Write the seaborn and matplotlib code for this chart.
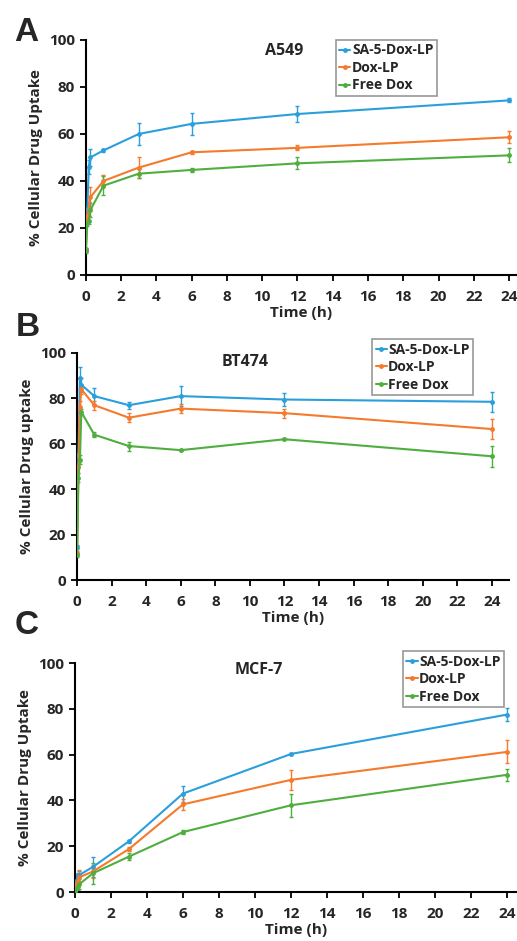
import numpy as np
import pandas as pd
import seaborn as sns
import matplotlib.pyplot as plt

# sampling times (h)
time_h = [0, 0.083, 0.167, 0.25, 1, 3, 6, 12, 24]
series = ["SA-5-Dox-LP", "Dox-LP", "Free Dox"]

# panel A: A549
a549_sa5 = [11, 28, 46, 50, 53, 60, 64.3, 68.5, 74.3]
a549_sa5_err = [0.5, 2, 3, 3.5, 0.7, 4.5, 4.7, 3.5, 0.8]
a549_dox = [10.5, 25, 28, 33, 40, 45.7, 52.2, 54.1, 58.6]
a549_dox_err = [0.5, 2, 3, 4.5, 2.5, 4.5, 0.7, 1.1, 2.5]
a549_free = [10, 22, 23, 27.5, 38, 43.1, 44.7, 47.5, 50.9]
a549_free_err = [0.5, 1, 1.5, 3, 4, 2, 0.8, 2.5, 3]

# panel B: BT474
bt474_sa5 = [14.5, 55, 89, 86, 81, 77, 81, 79.5, 78.5]
bt474_sa5_err = [1, 3, 5, 3, 3.5, 1.5, 4.5, 3, 4.5]
bt474_dox = [12, 50, 76, 84, 77, 71.5, 75.5, 73.5, 66.5]
bt474_dox_err = [1, 3, 3, 2, 2, 2, 2, 2, 4.5]
bt474_free = [11, 45, 53, 74, 64, 59, 57.2, 62, 54.5]
bt474_free_err = [1, 2, 2, 1.5, 1, 2, 0.5, 0.5, 4.5]

# panel C: MCF-7
mcf7_sa5 = [2, 5, 6.5, 7.5, 11, 22.2, 43, 60.3, 77.5]
mcf7_sa5_err = [1, 3, 2, 1.5, 4.5, 0.6, 3.5, 0.6, 3]
mcf7_dox = [1, 3.5, 5, 6.5, 9, 18.8, 38.3, 49, 61.2]
mcf7_dox_err = [0.5, 2, 3, 3, 3, 1, 2.5, 4.5, 5]
mcf7_free = [0.5, 1.5, 2.5, 3.5, 8.2, 15.5, 26.2, 37.9, 51.2]
mcf7_free_err = [0.5, 1, 1.5, 2, 4.5, 1.5, 0.7, 5, 2.5]

colors = ["#2a9fdc", "#f57a2c", "#4fae3f"]

sns.set_theme(style="white")
plt.rcParams["font.family"] = ["Open Sans", "DejaVu Sans"]
plt.rcParams["font.weight"] = "bold"
plt.rcParams["axes.labelweight"] = "bold"

fig = plt.figure(figsize=(5.17, 9.41), dpi=100)

panels = [
    dict(letter="A", title="A549", ylabel="% Cellular Drug Uptake",
         vals=[a549_sa5, a549_dox, a549_free], errs=[a549_sa5_err, a549_dox_err, a549_free_err],
         rect=[0.166, 0.7078, 0.834, 0.2497], xmax=24.45,
         title_xy=(0.46, 0.955), leg_anchor=(0.58, 1.0), letter_xy=(0.028, 0.982)),
    dict(letter="B", title="BT474", ylabel="% Cellular Drug uptake",
         vals=[bt474_sa5, bt474_dox, bt474_free], errs=[bt474_sa5_err, bt474_dox_err, bt474_free_err],
         rect=[0.149, 0.3836, 0.836, 0.2413], xmax=25.0,
         title_xy=(0.39, 0.96), leg_anchor=(0.683, 1.06), letter_xy=(0.030, 0.668)),
    dict(letter="C", title="MCF-7", ylabel="% Cellular Drug Uptake",
         vals=[mcf7_sa5, mcf7_dox, mcf7_free], errs=[mcf7_sa5_err, mcf7_dox_err, mcf7_free_err],
         rect=[0.145, 0.052, 0.855, 0.2434], xmax=24.55,
         title_xy=(0.416, 0.97), leg_anchor=(0.742, 1.052), letter_xy=(0.028, 0.352)),
]

for p in panels:
    ax = fig.add_axes(p["rect"])
    rows = []
    for name, v in zip(series, p["vals"]):
        for t, y in zip(time_h, v):
            rows.append({"Time": t, "Uptake": y, "Formulation": name})
    df = pd.DataFrame(rows)
    for name, v, e, c in zip(series, p["vals"], p["errs"], colors):
        ax.errorbar(time_h, v, yerr=e, fmt="none", ecolor=c, elinewidth=1.0,
                    capsize=1.5, capthick=1.0, zorder=2)
    sns.lineplot(data=df, x="Time", y="Uptake", hue="Formulation", palette=colors,
                 marker="o", markersize=3.5, markeredgewidth=0, linewidth=1.5,
                 ax=ax, zorder=3)

    ax.set_xlim(0, p["xmax"])
    ax.set_ylim(0, 100)
    ax.set_xticks(np.arange(0, 25, 2))
    ax.set_yticks(np.arange(0, 101, 20))
    for s in ["top", "right"]:
        ax.spines[s].set_visible(False)
    for s in ["left", "bottom"]:
        ax.spines[s].set_color("black")
        ax.spines[s].set_linewidth(1.5)
    ax.tick_params(axis="both", direction="out", length=4, width=1.3, color="black",
                   labelsize=11, pad=4, bottom=True, left=True)
    ax.tick_params(axis="x", pad=7)
    for lbl in ax.get_xticklabels() + ax.get_yticklabels():
        lbl.set_fontweight("bold")
    ax.set_xlabel("Time (h)", fontsize=11, fontweight="bold", labelpad=1)
    ax.set_ylabel(p["ylabel"], fontsize=11, fontweight="bold", labelpad=4)
    ax.text(p["title_xy"][0], p["title_xy"][1], p["title"], transform=ax.transAxes,
            ha="center", va="center", fontsize=11.5, fontweight="bold")
    fig.text(p["letter_xy"][0], p["letter_xy"][1], p["letter"], ha="left", va="top",
             fontsize=24, fontweight="bold", family=["Liberation Sans", "DejaVu Sans"])

    leg = ax.legend(loc="upper left", bbox_to_anchor=p["leg_anchor"], frameon=True,
                    fancybox=False, edgecolor="#7f7f7f", fontsize=10, handlelength=0.8,
                    handletextpad=0.1, borderpad=0.25, labelspacing=0.25, borderaxespad=0)
    leg.get_frame().set_linewidth(1.2)
    for t in leg.get_texts():
        t.set_fontweight("bold")

fig.savefig("out.png", dpi=100)
